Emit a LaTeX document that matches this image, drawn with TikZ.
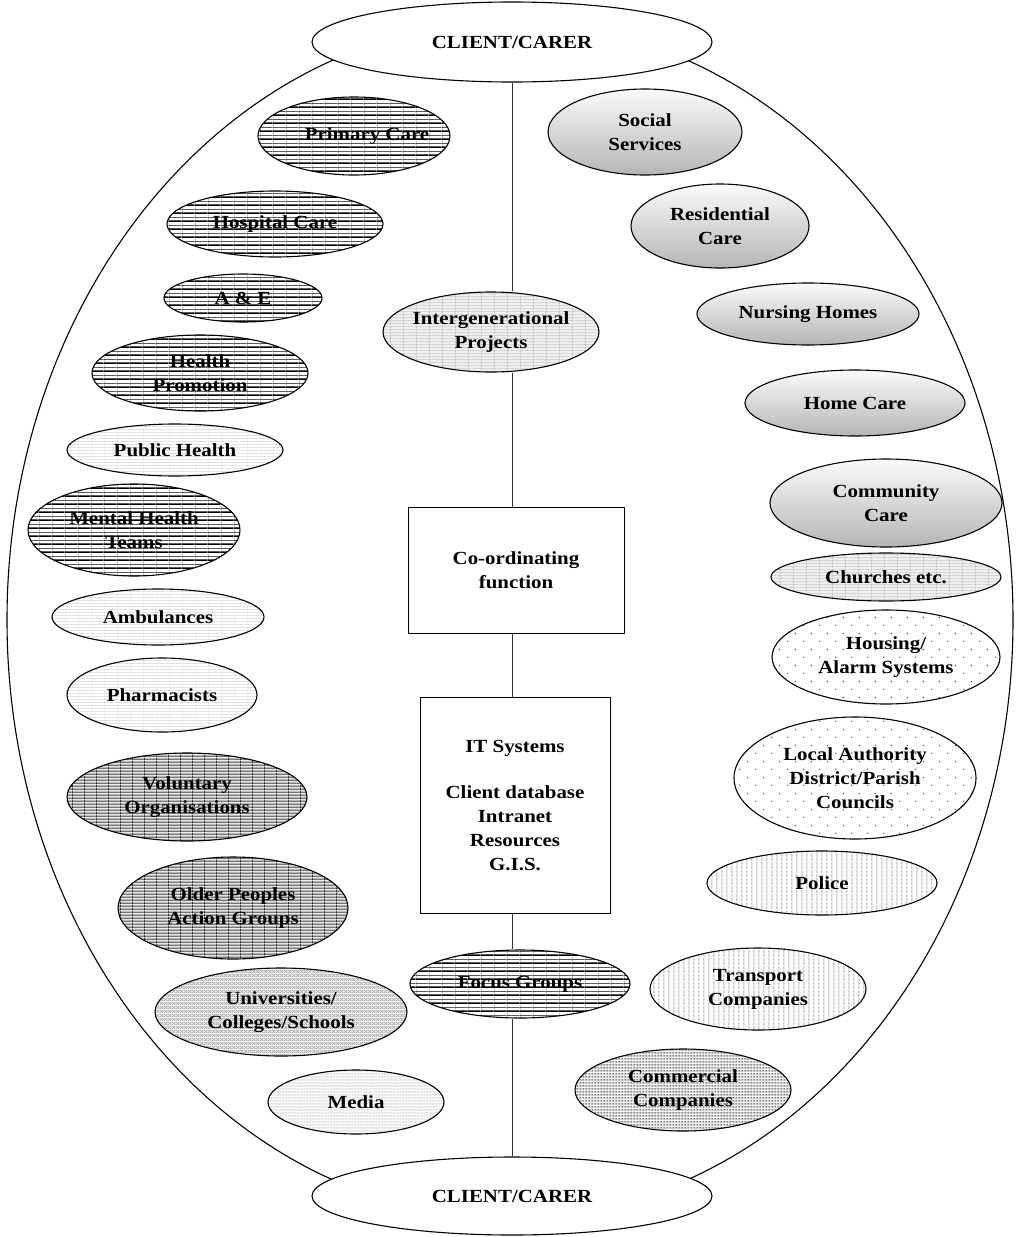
\documentclass[tikz,border=0pt]{standalone}
\usepackage{fontspec}
\setmainfont{Liberation Serif}[FakeStretch=1.13]
\usetikzlibrary{shapes.geometric,patterns}

% ---------- fill patterns (sizes in pt) ----------
\pgfdeclarepatterninherentlycolored{hdark}{\pgfpointorigin}{\pgfpoint{13pt}{7.5pt}}{\pgfpoint{13pt}{7.5pt}}{%
  \pgfsetfillcolor{white}\pgfpathrectangle{\pgfpointorigin}{\pgfpoint{13pt}{7.5pt}}\pgfusepath{fill}%
  \pgfsetstrokecolor{gray!70}\pgfsetlinewidth{0.5pt}%
  \pgfpathmoveto{\pgfpoint{0.3pt}{0pt}}\pgfpathlineto{\pgfpoint{0.3pt}{7.5pt}}\pgfusepath{stroke}%
  \pgfsetstrokecolor{black}\pgfsetlinewidth{1.6pt}%
  \pgfpathmoveto{\pgfpoint{0pt}{1pt}}\pgfpathlineto{\pgfpoint{13pt}{1pt}}\pgfusepath{stroke}%
  \pgfsetlinewidth{0.7pt}%
  \pgfpathmoveto{\pgfpoint{0pt}{4.6pt}}\pgfpathlineto{\pgfpoint{13pt}{4.6pt}}\pgfusepath{stroke}%
}
\pgfdeclarepatterninherentlycolored{hlight}{\pgfpointorigin}{\pgfpoint{13pt}{3pt}}{\pgfpoint{13pt}{3pt}}{%
  \pgfsetfillcolor{white}\pgfpathrectangle{\pgfpointorigin}{\pgfpoint{13pt}{3pt}}\pgfusepath{fill}%
  \pgfsetstrokecolor{gray!35}\pgfsetlinewidth{0.4pt}%
  \pgfpathmoveto{\pgfpoint{0.3pt}{0pt}}\pgfpathlineto{\pgfpoint{0.3pt}{3pt}}\pgfusepath{stroke}%
  \pgfsetstrokecolor{gray!60}\pgfsetlinewidth{0.6pt}%
  \pgfpathmoveto{\pgfpoint{0pt}{1pt}}\pgfpathlineto{\pgfpoint{13pt}{1pt}}\pgfusepath{stroke}%
}
\pgfdeclarepatterninherentlycolored{ggrid}{\pgfpointorigin}{\pgfpoint{13pt}{3pt}}{\pgfpoint{13pt}{3pt}}{%
  \pgfsetfillcolor{gray!35}\pgfpathrectangle{\pgfpointorigin}{\pgfpoint{13pt}{3pt}}\pgfusepath{fill}%
  \pgfsetstrokecolor{white}\pgfsetlinewidth{0.9pt}%
  \pgfpathmoveto{\pgfpoint{0pt}{1pt}}\pgfpathlineto{\pgfpoint{13pt}{1pt}}\pgfusepath{stroke}%
  \pgfsetstrokecolor{gray!55}\pgfsetlinewidth{0.5pt}%
  \pgfpathmoveto{\pgfpoint{0.3pt}{0pt}}\pgfpathlineto{\pgfpoint{0.3pt}{3pt}}\pgfusepath{stroke}%
}
\pgfdeclarepatterninherentlycolored{vdark}{\pgfpointorigin}{\pgfpoint{12pt}{3pt}}{\pgfpoint{12pt}{3pt}}{%
  \pgfsetfillcolor{gray!55}\pgfpathrectangle{\pgfpointorigin}{\pgfpoint{12pt}{3pt}}\pgfusepath{fill}%
  \pgfsetstrokecolor{black}\pgfsetlinewidth{0.6pt}%
  \pgfpathmoveto{\pgfpoint{0pt}{1pt}}\pgfpathlineto{\pgfpoint{12pt}{1pt}}\pgfusepath{stroke}%
  \pgfpathmoveto{\pgfpoint{0.3pt}{0pt}}\pgfpathlineto{\pgfpoint{0.3pt}{3pt}}\pgfusepath{stroke}%
}
\pgfdeclarepatterninherentlycolored{xhatch}{\pgfpointorigin}{\pgfpoint{4pt}{4pt}}{\pgfpoint{4pt}{4pt}}{%
  \pgfsetfillcolor{gray!15}\pgfpathrectangle{\pgfpointorigin}{\pgfpoint{4pt}{4pt}}\pgfusepath{fill}%
  \pgfsetstrokecolor{gray!70}\pgfsetlinewidth{0.5pt}%
  \pgfpathmoveto{\pgfpoint{0pt}{0pt}}\pgfpathlineto{\pgfpoint{4pt}{4pt}}\pgfusepath{stroke}%
  \pgfpathmoveto{\pgfpoint{0pt}{4pt}}\pgfpathlineto{\pgfpoint{4pt}{0pt}}\pgfusepath{stroke}%
}
\pgfdeclarepatterninherentlycolored{mdots}{\pgfpointorigin}{\pgfpoint{3pt}{3pt}}{\pgfpoint{3pt}{3pt}}{%
  \pgfsetfillcolor{gray!12}\pgfpathrectangle{\pgfpointorigin}{\pgfpoint{3pt}{3pt}}\pgfusepath{fill}%
  \pgfsetfillcolor{gray!65}\pgfpathcircle{\pgfpoint{1.5pt}{1.5pt}}{0.6pt}\pgfusepath{fill}%
}
\pgfdeclarepatterninherentlycolored{sdots}{\pgfpointorigin}{\pgfpoint{16pt}{16pt}}{\pgfpoint{16pt}{16pt}}{%
  \pgfsetfillcolor{white}\pgfpathrectangle{\pgfpointorigin}{\pgfpoint{16pt}{16pt}}\pgfusepath{fill}%
  \pgfsetfillcolor{black!80}%
  \pgfpathcircle{\pgfpoint{4pt}{4pt}}{0.75pt}\pgfusepath{fill}%
  \pgfpathcircle{\pgfpoint{12pt}{12pt}}{0.75pt}\pgfusepath{fill}%
}
\pgfdeclarepatterninherentlycolored{vlines}{\pgfpointorigin}{\pgfpoint{4.5pt}{4pt}}{\pgfpoint{4.5pt}{4pt}}{%
  \pgfsetfillcolor{white}\pgfpathrectangle{\pgfpointorigin}{\pgfpoint{4.5pt}{4pt}}\pgfusepath{fill}%
  \pgfsetstrokecolor{gray!60}\pgfsetlinewidth{1pt}%
  \pgfpathmoveto{\pgfpoint{1pt}{0pt}}\pgfpathlineto{\pgfpoint{1pt}{4pt}}\pgfusepath{stroke}%
}
\pgfdeclarepatterninherentlycolored{cdots}{\pgfpointorigin}{\pgfpoint{3pt}{3pt}}{\pgfpoint{3pt}{3pt}}{%
  \pgfsetfillcolor{gray!25}\pgfpathrectangle{\pgfpointorigin}{\pgfpoint{3pt}{3pt}}\pgfusepath{fill}%
  \pgfsetfillcolor{black!85}\pgfpathcircle{\pgfpoint{1.5pt}{1.5pt}}{0.85pt}\pgfusepath{fill}%
}

\tikzset{
  txt/.style={font=\fontsize{18.5}{24}\selectfont\bfseries, align=center},
  % an ellipse of fixed size; its caption is set as a centred label so the
  % text never enlarges the shape
  oval/.style n args={3}{ellipse, draw, line width=1.1pt, inner sep=0pt,
    minimum width=#1, minimum height=#2, label={[txt]center:#3}},
  graded/.style={top color=gray!4, bottom color=gray!58},
  box/.style={rectangle, draw, line width=1pt, txt, minimum width=#1},
  axis/.style={line width=0.8pt, black!80},
}

\begin{document}
\begin{tikzpicture}[x=1pt, y=-1pt]
\useasboundingbox (0,0) rectangle (1017,1237);

% outer boundary
\node[ellipse, draw, line width=1.1pt, minimum width=1006pt, minimum height=1196pt] (frame) at (510,620) {};

% end points of the care pathway
\node[oval={400pt}{80pt}{CLIENT/CARER}, fill=white] (top) at (512,42) {};
\node[oval={400pt}{78pt}{CLIENT/CARER}, fill=white] (bottom) at (512,1196) {};

% centre column
\node[oval={216pt}{80pt}{Intergenerational\\Projects}, pattern=ggrid] (inter) at (491,332) {};
\node[box=216pt, minimum height=126pt] (coord) at (516,570) {Co-ordinating\\function};
\node[box=190pt, minimum height=216pt] (it) at (515,805) {IT Systems\\[22pt]Client database\\Intranet\\Resources\\G.I.S.};
\node[oval={220pt}{68pt}{Focus Groups}, pattern=hdark] (focus) at (520,984) {};

\draw[axis] (top.south) -- (inter.north -| top.south);
\draw[axis] (inter.south -| top.south) -- (coord.north -| top.south);
\draw[axis] (coord.south -| top.south) -- (it.north -| top.south);
\draw[axis] (it.south -| top.south) -- (focus.north -| top.south);
\draw[axis] (focus.south -| top.south) -- (bottom.north);

% health services (left)
\node[oval={192pt}{78pt}{\hspace*{26pt}Primary Care}, pattern=hdark] (primary) at (354,136) {};
\node[oval={216pt}{66pt}{Hospital Care}, pattern=hdark] (hospital) at (275,224) {};
\node[oval={158pt}{48pt}{A \& E}, pattern=hdark] (ae) at (243,298) {};
\node[oval={216pt}{76pt}{Health\\Promotion}, pattern=hdark] (promo) at (200,373) {};
\node[oval={216pt}{52pt}{Public Health}, pattern=hlight] (public) at (175,450) {};
\node[oval={212pt}{92pt}{Mental Health\\Teams}, pattern=hdark] (mental) at (134,530) {};
\node[oval={212pt}{56pt}{Ambulances}, pattern=hlight] (amb) at (158,617) {};
\node[oval={190pt}{74pt}{Pharmacists}, pattern=hlight] (pharm) at (162,695) {};
\node[oval={240pt}{88pt}{Voluntary\\Organisations}, pattern=vdark] (vol) at (187,797) {};
\node[oval={230pt}{102pt}{Older Peoples\\Action Groups}, pattern=vdark] (older) at (233,908) {};
\node[oval={252pt}{88pt}{Universities/\\Colleges/Schools}, pattern=xhatch] (uni) at (281,1012) {};
\node[oval={176pt}{64pt}{Media}, pattern=mdots] (media) at (356,1102) {};

% social care and community (right)
\node[oval={194pt}{86pt}{Social\\Services}, graded] (social) at (645,132) {};
\node[oval={178pt}{84pt}{Residential\\Care}, graded] (resid) at (720,226) {};
\node[oval={222pt}{62pt}{Nursing Homes}, graded] (nursing) at (808,314) {};
\node[oval={220pt}{66pt}{Home Care}, graded] (home) at (855,403) {};
\node[oval={232pt}{88pt}{Community\\Care}, graded] (community) at (886,503) {};
\node[oval={230pt}{48pt}{Churches etc.}, pattern=ggrid] (church) at (886,577) {};
\node[oval={228pt}{94pt}{Housing/\\Alarm Systems}, pattern=sdots] (housing) at (886,657) {};
\node[oval={242pt}{122pt}{Local Authority\\District/Parish\\Councils}, pattern=sdots] (council) at (855,778) {};
\node[oval={230pt}{64pt}{Police}, pattern=vlines] (police) at (822,883) {};
\node[oval={216pt}{82pt}{Transport\\Companies}, pattern=vlines] (transport) at (758,989) {};
\node[oval={216pt}{82pt}{Commercial\\Companies}, pattern=cdots] (commercial) at (683,1090) {};
\end{tikzpicture}
\end{document}
